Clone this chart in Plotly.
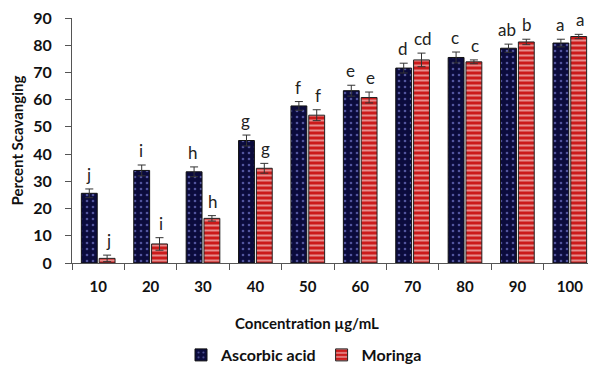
import plotly.graph_objects as go

categories = ["10", "20", "30", "40", "50", "60", "70", "80", "90", "100"]
ascorbic = [25.6, 34.0, 33.5, 45.0, 57.7, 63.3, 71.6, 75.5, 78.9, 80.8]
ascorbic_err = [1.6, 2.0, 1.8, 2.0, 1.6, 2.0, 1.8, 2.0, 1.5, 1.4]
moringa = [1.7, 7.0, 16.4, 34.8, 54.3, 60.8, 74.6, 73.9, 81.2, 83.2]
moringa_err = [1.2, 2.3, 1.0, 1.8, 2.0, 2.0, 2.5, 0.7, 1.0, 0.8]
ascorbic_letters = ["j", "i", "h", "g", "f", "e", "d", "c", "ab", "a"]
moringa_letters = ["j", "i", "h", "g", "f", "e", "cd", "c", "b", "a"]

# page body has an 8px margin, so the figure is sized to fill the rest of the window
W, H = 588, 358
L, T, B = 64, 10, 103
PW, PH = W - L, H - T - B

fig = go.Figure()
fig.add_trace(go.Bar(
    x=categories, y=ascorbic, name="Ascorbic acid",
    error_y=dict(type="data", array=ascorbic_err, visible=True, color="#333", thickness=1, width=4),
    marker=dict(color="#0b0b3c", line=dict(color="#111", width=1),
                pattern=dict(shape=".", fgcolor="#9aa0ff", bgcolor="#0b0b3c", size=6, solidity=0.15)),
))
fig.add_trace(go.Bar(
    x=categories, y=moringa, name="Moringa",
    error_y=dict(type="data", array=moringa_err, visible=True, color="#333", thickness=1, width=4),
    marker=dict(color="#cc1a1a", line=dict(color="#222", width=1),
                pattern=dict(shape="-", fgcolor="#ffffff", bgcolor="#cc1a1a", size=5, solidity=0.4)),
))

ann = []
for i, c in enumerate(categories):
    for v, e, l, off in ((ascorbic, ascorbic_err, ascorbic_letters, -0.19),
                         (moringa, moringa_err, moringa_letters, 0.19)):
        ann.append(dict(x=i + off, y=v[i] + e[i], xref="x", yref="y", text=l[i],
                        showarrow=False, yanchor="bottom", yshift=2,
                        font=dict(family="Lato", size=17, color="#222")))
ann.append(dict(x=(299 - L) / PW, y=-(315 - (T + PH)) / PH, xref="paper", yref="paper",
                text="Concentration µg/mL", showarrow=False, xanchor="center", yanchor="middle",
                font=dict(family="Lato", size=15, weight="bold", color="#111")))

fig.update_layout(
    width=W, height=H,
    margin=dict(l=L, r=0, t=T, b=B, autoexpand=False),
    plot_bgcolor="white", paper_bgcolor="white",
    barmode="group", bargap=0.32, bargroupgap=0.11,
    font=dict(family="Lato", color="#111"),
    annotations=ann,
    showlegend=True,
    legend=dict(orientation="h", x=296 / W, xref="container", xanchor="center",
                y=(H - 347) / H, yref="container", yanchor="middle",
                font=dict(family="Lato", size=16, color="#111", weight="bold"),
                itemwidth=30, traceorder="normal"),
    xaxis=dict(type="category", showline=True, linecolor="#555", linewidth=1, automargin=False,
               ticks="outside", tickson="boundaries", ticklen=6, tickcolor="#555",
               ticklabelstandoff=10, ticklabeloverflow="allow",
               tickfont=dict(family="Lato", size=15, weight="bold", color="#111"),
               range=[-0.5, 9.5]),
    yaxis=dict(range=[0, 90], dtick=10, showline=True, linecolor="#555", linewidth=1, automargin=False,
               ticks="outside", ticklen=6, tickcolor="#555", showgrid=False, zeroline=False,
               ticklabelstandoff=10, ticklabeloverflow="allow",
               tickfont=dict(family="Lato", size=16, weight="bold", color="#111"),
               title=dict(text="Percent Scavanging", font=dict(family="Lato", size=15, weight="bold", color="#111"), standoff=6)),
)

fig.write_html("out.html")
